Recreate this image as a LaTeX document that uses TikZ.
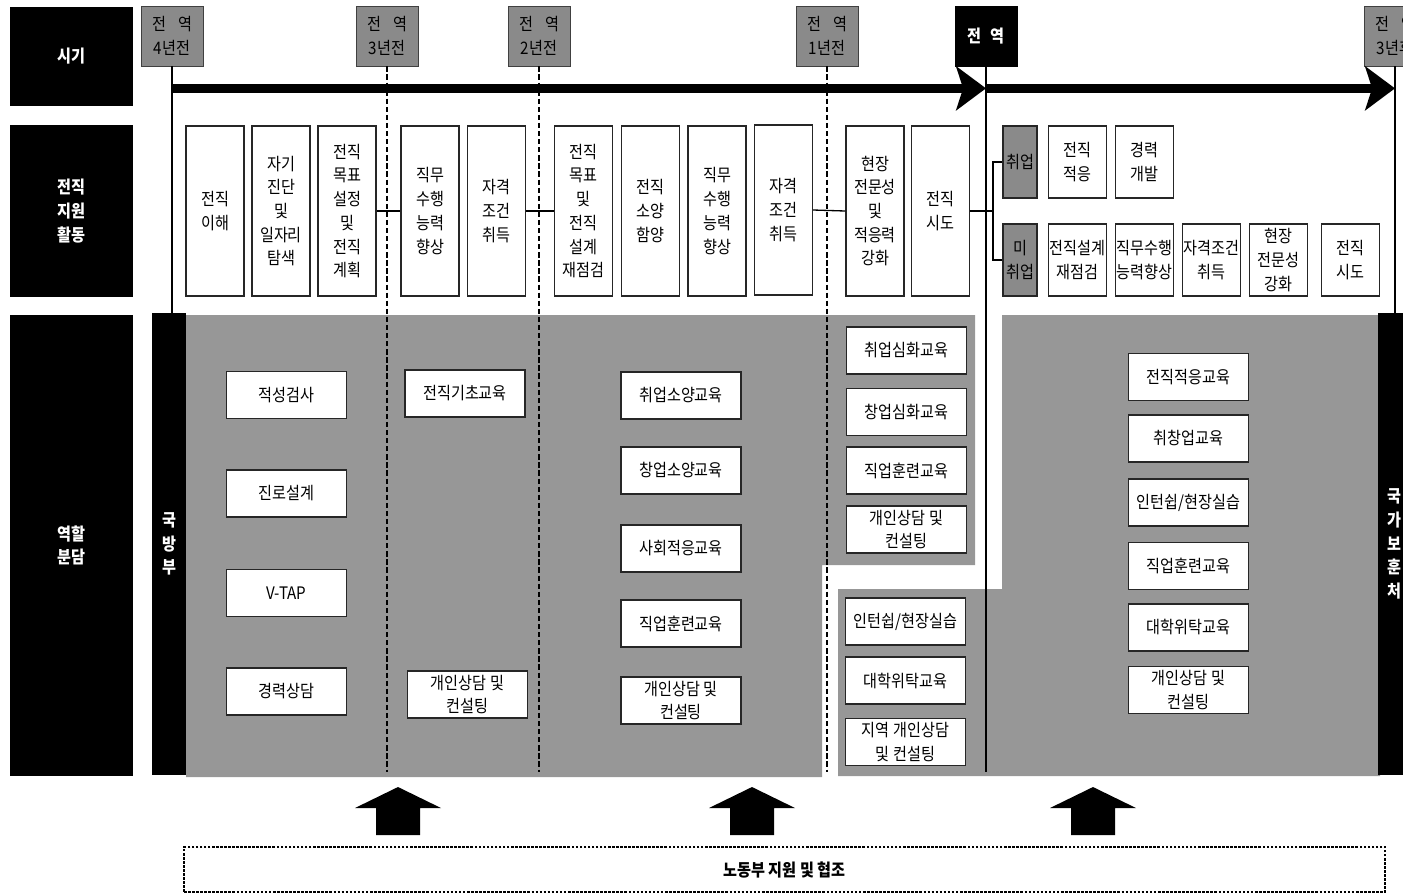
\documentclass[tikz,border=0pt]{standalone}
\usepackage{fontspec}
\setmainfont{Noto Sans CJK KR}[FakeStretch=0.88]
\usepackage{tikz}
\usetikzlibrary{arrows.meta, positioning, calc}
\definecolor{PanelGray}{RGB}{151,151,151}
\definecolor{StampGray}{RGB}{138,138,138}
\newcommand{\pxu}{0.02cm}
\newcommand{\kfont}{\fontsize{9.8}{13.5}\selectfont}
\tikzset{
  >=Stealth,
  % row heads on the left
  head/.style={fill=black,text=white,font=\kfont\bfseries,align=center,inner sep=0pt,minimum width=123*\pxu},
  % time stamps
  stamp/.style={draw=black!75,fill=StampGray,font=\kfont,align=center,inner sep=0pt,minimum width=62*\pxu,minimum height=60*\pxu},
  stamp now/.style={stamp,draw=black,fill=black,text=white,font=\kfont\bfseries},
  % activity boxes
  act/.style={draw=black!85,line width=0.8pt,fill=white,font=\kfont,align=center,inner sep=0pt,minimum width=58*\pxu,minimum height=170*\pxu},
  act half/.style={act,minimum height=72*\pxu},
  act tag/.style={act half,fill=StampGray,minimum width=34*\pxu},
  % programme boxes
  edu/.style={draw=black!85,line width=0.8pt,fill=white,font=\kfont,align=center,inner sep=0pt,minimum width=120*\pxu,minimum height=47*\pxu},
  % agencies
  agency/.style={fill=black,text=white,font=\kfont\bfseries,align=center,inner sep=0pt,minimum width=34*\pxu,minimum height=462*\pxu},
  % lines
  link/.style={line width=0.75pt},
  period/.style={line width=0.8pt,dash pattern=on 3pt off 1.6pt},
  timeline/.style={line width=5.5pt,-{Stealth[length=17pt,width=25pt,inset=4pt]}}
}

\begin{document}
\begin{tikzpicture}[x=0.02cm,y=-0.02cm]
  \useasboundingbox (0,0) rectangle (1403,894);
  % grey panels
  \fill[PanelGray] (186,315) -- (975,315) -- (975,565) -- (822,565) -- (822,777) -- (186,777) -- cycle;
  \fill[PanelGray] (838,589) -- (1002,589) -- (1002,315) -- (1380,315) -- (1380,776) -- (838,776) -- cycle;
  % row heads
  \node[head,minimum height=99*\pxu] (hTime) at (71.5,56.5) {시기};
  \node[head,minimum height=172*\pxu] (hAct) at (71.5,211) {전직\\지원\\활동};
  \node[head,minimum height=461*\pxu] (hRole) at (71.5,545.5) {역할\\분담};
  % time stamps
  \node[stamp] (p4) at (172,36) {전\hspace{.7em}역\\4년전};
  \node[stamp] (p3) at (387,36) {전\hspace{.7em}역\\3년전};
  \node[stamp] (p2) at (539,36) {전\hspace{.7em}역\\2년전};
  \node[stamp] (p1) at (827,36) {전\hspace{.7em}역\\1년전};
  \node[stamp now] (p0) at (986,36) {전\hspace{.5em}역};
  \node[stamp] (pA) at (1395,36) {전\hspace{.7em}역\\3년후};
  % agencies
  \node[agency] (mnd) at (169,544) {국\\방\\부};
  \node[agency,minimum width=32*\pxu] (mpva) at (1394,544) {국\\가\\보\\훈\\처};
  \coordinate (base) at (0,772);
  % period lines
  \draw[link] (p4.south) -- (p4.south |- mnd.north);
  \draw[link] (pA.south) -- (pA.south |- mpva.north);
  \foreach \p in {p3,p2,p1}
    \draw[period] (\p.south) -- (\p.south |- base);
  \draw[line width=1.1pt] (p0.south) -- (p0.south |- base);
  % time axis
  \coordinate (t0) at ($(p4.south)+(0,22)$);
  \draw[timeline] (t0) -- (t0 -| p0.south);
  \draw[timeline,line width=5pt] (t0 -| p0.south) -- (t0 -| pA.south);

  % activities before discharge
  \node[act] (a1) at (215,211) {전직\\이해};
  \node[act] (a2) at (281,211) {자기\\진단\\및\\일자리\\탐색};
  \node[act] (a3) at (347,211) {전직\\목표\\설정\\및\\전직\\계획};
  \node[act] (a4) at (430,211) {직무\\수행\\능력\\향상};
  \node[act] (a5) at (496.5,211) {자격\\조건\\취득};
  \node[act] (a6) at (583.5,211) {전직\\목표\\및\\전직\\설계\\재점검};
  \node[act] (a7) at (650.5,211) {전직\\소양\\함양};
  \node[act] (a8) at (717,211) {직무\\수행\\능력\\향상};
  \node[act] (a9) at (783.5,210) {자격\\조건\\취득};
  \node[act] (a10) at (875,211) {현장\\전문성\\및\\적응력\\강화};
  \node[act] (a11) at (940.5,211) {전직\\시도};
  \draw[link] (a3.east) -- (a4.west);
  \draw[link] (a5.east) -- (a6.west);
  \draw[link] (a9.east) -- (a10.west);
  % activities after discharge
  \node[act tag] (emp) at (1020,162) {취업};
  \node[act tag] (unemp) at (1020,260) {미\\취업};
  \node[act half] (b1) at (1077.5,162) {전직\\적응};
  \node[act half] (b2) at (1144.5,162) {경력\\개발};
  \node[act half] (c1) at (1077.5,260) {전직설계\\재점검};
  \node[act half] (c2) at (1144.5,260) {직무수행\\능력향상};
  \node[act half] (c3) at (1211.5,260) {자격조건\\취득};
  \node[act half] (c4) at (1278.5,260) {현장\\전문성\\강화};
  \node[act half] (c5) at (1350.5,260) {전직\\시도};
  \coordinate (br) at (993,211);
  \draw[link] (a11.east) -- (br);
  \draw[link] (emp.west) -| (br) |- (unemp.west);

  % ministry of defence programmes
  \node[edu] (g1) at (286.5,395) {적성검사};
  \node[edu] (g2) at (286.5,493.5) {진로설계};
  \node[edu] (g3) at (286.5,593) {V-TAP};
  \node[edu] (g4) at (286.5,691.5) {경력상담};
  \node[edu] (g5) at (465,393.5) {전직기초교육};
  \node[edu] (g6) at (467.5,694.5) {개인상담 및\\컨설팅};
  \node[edu] (g7) at (681,395.5) {취업소양교육};
  \node[edu] (g8) at (681,470.5) {창업소양교육};
  \node[edu] (g9) at (681,548.5) {사회적응교육};
  \node[edu] (g10) at (681,623.5) {직업훈련교육};
  \node[edu] (g11) at (681,700.5) {개인상담 및\\컨설팅};
  \node[edu] (g12) at (906.5,350.5) {취업심화교육};
  \node[edu] (g13) at (906.5,412) {창업심화교육};
  \node[edu] (g14) at (906.5,470.5) {직업훈련교육};
  \node[edu] (g15) at (906.5,529.5) {개인상담 및\\컨설팅};
  \node[edu] (g16) at (905.5,621.5) {인턴쉽/현장실습};
  \node[edu] (g17) at (905.5,680.5) {대학위탁교육};
  \node[edu] (g18) at (905.5,742) {지역 개인상담\\및 컨설팅};
  % veterans affairs programmes
  \node[edu] (g19) at (1188.5,377) {전직적응교육};
  \node[edu] (g20) at (1188.5,438.5) {취창업교육};
  \node[edu] (g21) at (1188.5,502.5) {인턴쉽/현장실습};
  \node[edu] (g22) at (1188.5,566) {직업훈련교육};
  \node[edu] (g23) at (1188.5,627.5) {대학위탁교육};
  \node[edu] (g24) at (1188.5,690) {개인상담 및\\컨설팅};

  % labour support
  \foreach \c in {398,752,1093}
    \fill (\c-22,835) -- (\c-22,808) -- (\c-43,808) -- (\c,787) -- (\c+43,808) -- (\c+22,808) -- (\c+22,835) -- cycle;
  \node[draw,line width=0.8pt,dash pattern=on 1.5pt off 0.8pt,minimum width=1201*\pxu,minimum height=45*\pxu,font=\kfont\bfseries] (lab) at (784.5,869.5) {노동부 지원 및 협조};
\end{tikzpicture}
\end{document}
